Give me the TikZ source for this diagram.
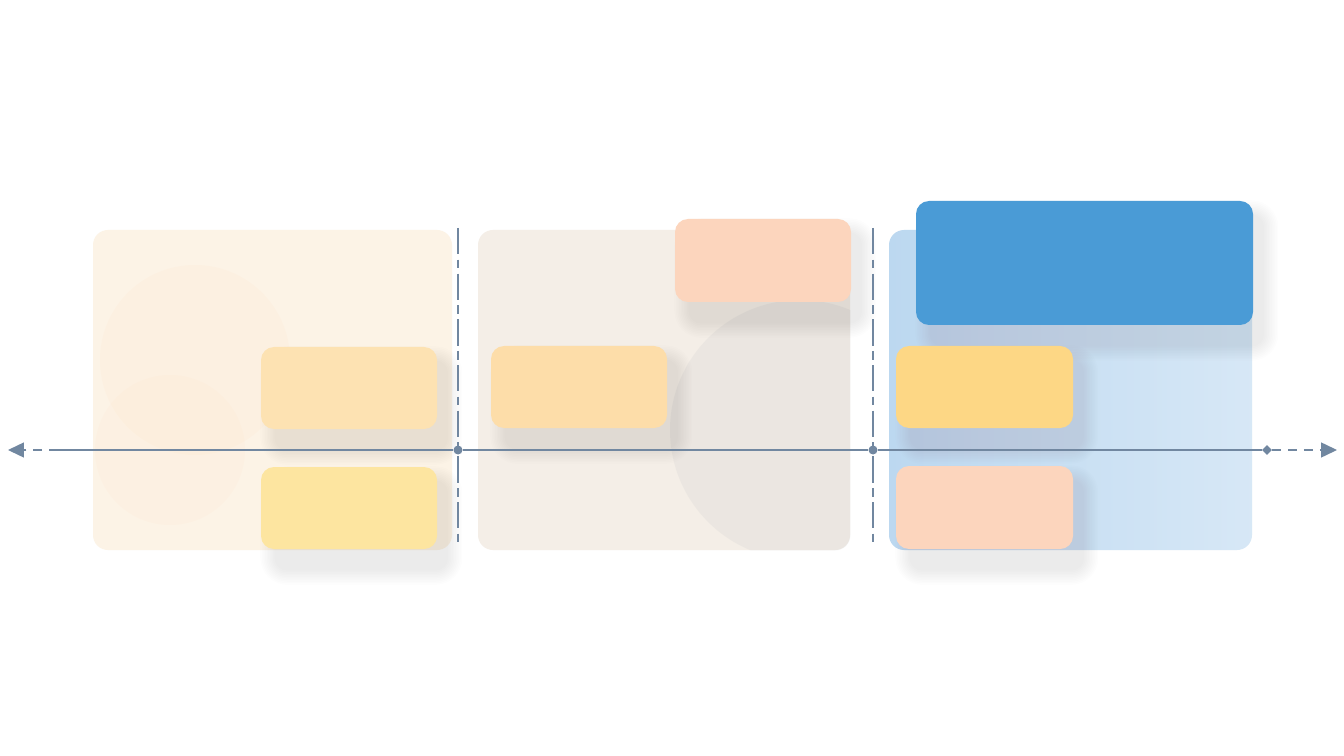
\documentclass[tikz,border=0pt]{standalone}
\usetikzlibrary{positioning,shapes,arrows.meta}
\definecolor{axisgray}{HTML}{7187A0}
\definecolor{creampanel}{HTML}{FCF3E6}
\definecolor{beigepanel}{HTML}{F4EEE7}
\definecolor{bluepanel}{HTML}{BCD8F0}
\definecolor{softyellow}{HTML}{FDE2B2}
\definecolor{warmyellow}{HTML}{FDD785}
\definecolor{peach}{HTML}{FCD5BD}
\definecolor{strongblue}{HTML}{4A9BD6}
\definecolor{shadowtone}{HTML}{6E6258}
\pgfdeclarelayer{panels}
\pgfdeclarelayer{shade}
\pgfsetlayers{panels,shade,main}

\begin{document}
\begin{tikzpicture}[x=0.02cm, y=-0.02cm,
    panel/.style={rounded corners=0.3cm, inner sep=0pt},
    card/.style={rounded corners=0.26cm, inner sep=0pt},
    divider/.style={axisgray, thick, dash pattern=on 15pt off 3pt on 5pt off 3pt},
    knot/.style={circle, fill=axisgray, inner sep=0pt, minimum size=0.18cm}]

    % Define the unit of one pixel
    \def\px{0.02cm}

    \begin{pgfonlayer}{panels}
    % Background
    \fill[white] (0,0) rectangle (1344,756);
    \useasboundingbox (0,0) rectangle (1344,756);

    % Panels
    \node[panel, fill=creampanel, minimum width=359*\px, minimum height=320*\px] (phaseA) at (272.5,390) {};
    \node[panel, fill=beigepanel, minimum width=372*\px, minimum height=320*\px] (phaseB) at (664,390) {};
    \node[panel, left color=bluepanel, right color=bluepanel!60, minimum width=363*\px, minimum height=320*\px] (phaseC) at (1070.5,390) {};

    % Faint circles inside the panels
    \begin{scope}
        \clip[rounded corners=0.3cm] (phaseA.south west) rectangle (phaseA.north east);
        \fill[orange!25, opacity=0.12] (195,360) circle (95);
        \fill[orange!25, opacity=0.1] (170,450) circle (75);
    \end{scope}
    \begin{scope}
        \clip[rounded corners=0.3cm] (phaseB.south west) rectangle (phaseB.north east);
        \fill[gray!40, opacity=0.22] (800,430) circle (130);
    \end{scope}
    \end{pgfonlayer}

    % Dividers
    \coordinate (divAtop) at (458,228);
    \coordinate (divAbot) at (458,546);
    \coordinate (divBtop) at (873,228);
    \coordinate (divBbot) at (873,546);
    \draw[divider] (divAtop) -- (divAbot);
    \draw[divider] (divBtop) -- (divBbot);

    % Time axis
    \coordinate (tipL) at (8,450);
    \coordinate (startL) at (58,450);
    \coordinate (tipR) at (1337,450);
    \node[knot] (knotA) at (458,450) {};
    \node[knot] (knotB) at (873,450) {};
    \node[knot, diamond, minimum size=0.2cm] (knotC) at (1267,450) {};
    \draw[axisgray, thick] (startL) -- (knotA) -- (knotB) -- (knotC);
    \draw[axisgray, thick, dash pattern=on 5pt off 4pt, -{Triangle[length=0.32cm, width=0.3cm]}] (startL) -- (tipL);
    \draw[axisgray, thick, dash pattern=on 5pt off 4pt, -{Triangle[length=0.32cm, width=0.3cm]}] (knotC) -- (tipR);

    % Cards
    \node[card, fill=softyellow, minimum width=176*\px, minimum height=82*\px] (cardAone) at (349,388) {};
    \node[card, fill=softyellow!90!yellow, minimum width=176*\px, minimum height=82*\px] (cardAtwo) at (349,508) {};
    \node[card, fill=softyellow!95!orange, minimum width=176*\px, minimum height=82*\px] (cardBone) at (579,387) {};
    \node[card, fill=peach, minimum width=176*\px, minimum height=83*\px] (cardBtwo) at (763,260.5) {};
    \node[card, fill=strongblue, minimum width=337*\px, minimum height=124*\px] (cardChead) at (1084.5,263) {};
    \node[card, fill=warmyellow, minimum width=177*\px, minimum height=82*\px] (cardCone) at (984.5,387) {};
    \node[card, fill=peach, minimum width=177*\px, minimum height=83*\px] (cardCtwo) at (984.5,507.5) {};

    % Soft shadows under the cards
    \begin{pgfonlayer}{shade}
    \foreach \c in {cardAone, cardAtwo, cardBone, cardBtwo, cardChead, cardCone, cardCtwo} {
        \foreach \k in {0,...,9} {
            \fill[shadowtone, opacity=0.013, rounded corners=7pt+\k*0.9pt]
                ([xshift=8pt-\k*0.9pt, yshift=-12pt-\k*0.9pt]\c.south west)
                rectangle ([xshift=6pt+\k*0.9pt, yshift=-8pt+\k*0.9pt]\c.north east);
        }
    }
    \end{pgfonlayer}

\end{tikzpicture}
\end{document}
